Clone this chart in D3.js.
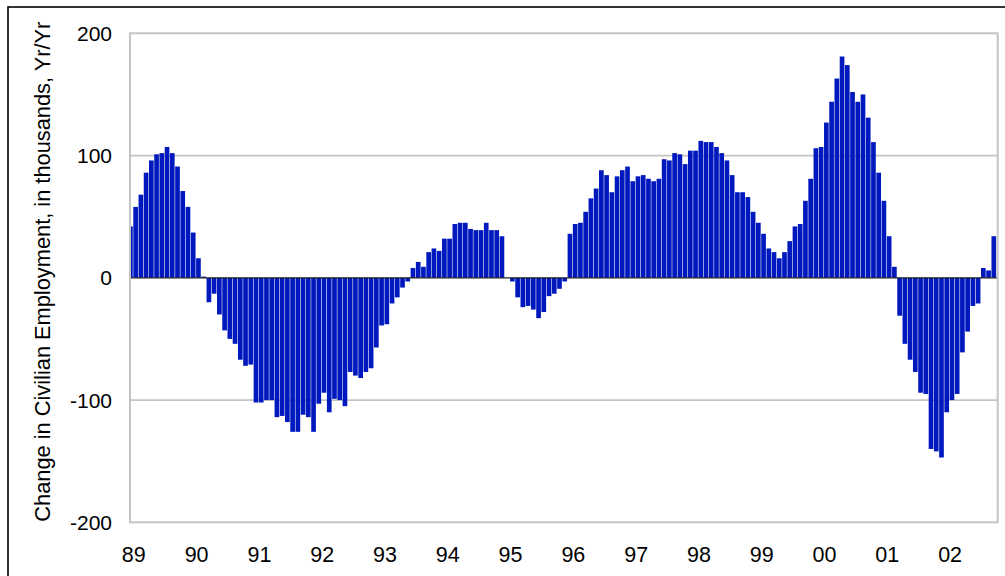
<!DOCTYPE html>
<html>
<head>
<meta charset="utf-8">
<script src="https://cdn.jsdelivr.net/npm/d3@7"></script>
<style>
  html, body { margin: 0; padding: 0; background: #fff; }
  svg { display: block; font-family: Arial, "Liberation Sans", sans-serif; }
</style>
</head>
<body>
<svg width="1005" height="576"></svg>
<script>
// monthly yr/yr change, Dec 88 .. Sep 02 (first bar sits under the axis edge)
const startMonth = new Date(1988, 11, 1)
const values = [
   42,  58,  68,  86,  96, 101, 102, 107, 102,  91,  71,  58,
   37,  16,   1, -20, -13, -30, -43, -50, -54, -67, -72, -71,
 -102,-102,-100,-100,-114,-113,-118,-126,-126,-112,-114,-126,
 -103, -94,-110, -99,-100,-105, -77, -80, -82, -77, -74, -57,
  -39, -38, -21, -16,  -8,  -3,   8,  13,   9,  21,  24,  22,
   32,  32,  44,  45,  45,  40,  39,  39,  45,  39,  39,  34,
    0,  -3, -16, -24, -23, -26, -33, -28, -15, -13,  -9,  -3,
   36,  44,  45,  54,  65,  73,  88,  84,  70,  83,  88,  91,
   79,  83,  84,  81,  79,  81,  97,  96, 102, 101,  93, 104,
  104, 112, 111, 111, 107, 102,  96,  84,  70,  70,  66,  54,
   45,  36,  24,  21,  16,  21,  30,  42,  44,  63,  81, 106,
  107, 127, 144, 163, 181, 174, 152, 144, 150, 131, 111,  86,
   63,  34,   9, -31, -54, -67, -77, -94, -95,-140,-142,-147,
 -110,-100, -95, -61, -44, -23, -21,   8,   6,  34
]
const months = d3.range(values.length).map(i => d3.timeMonth.offset(startMonth, i))
const yearLabels = ["89","90","91","92","93","94","95","96","97","98","99","00","01","02"]
const yTicks = [-200, -100, 0, 100, 200]
const yTitle = "Change in Civilian Employment, in thousands, Yr/Yr"

const svg = d3.select("svg")
const plot = {left:130, top:33.3, right:997.7, bottom:522.3}

const x = d3.scaleBand()
    .domain(d3.range(values.length))
    .range([128.07, 996.7])
    .padding(0)
const y = d3.scaleLinear().domain([-200, 200]).range([plot.bottom, plot.top])

// outer frame
svg.append("rect")
    .attr("x", 8).attr("y", 7)
    .attr("width", 1100).attr("height", 700)
    .attr("fill", "none").attr("stroke", "#000").attr("stroke-width", 1.6)

svg.append("clipPath").attr("id", "plotclip")
  .append("rect")
    .attr("x", plot.left).attr("y", plot.top)
    .attr("width", plot.right - plot.left).attr("height", plot.bottom - plot.top)

// gridlines
svg.append("g").selectAll("line")
    .data([100, -100])
    .join("line")
    .attr("x1", plot.left).attr("x2", plot.right)
    .attr("y1", d => y(d)).attr("y2", d => y(d))
    .attr("stroke", "#c4c4c4").attr("stroke-width", 1.8)

// bars
svg.append("g").attr("clip-path", "url(#plotclip)")
  .selectAll("rect")
    .data(values)
    .join("rect")
    .attr("x", (d, i) => x(i))
    .attr("width", x.bandwidth() - 0.55)
    .attr("y", d => y(Math.max(0, d)))
    .attr("height", d => Math.abs(y(d) - y(0)))
    .attr("fill", "#0019be")

// zero line
svg.append("line")
    .attr("x1", plot.left).attr("x2", plot.right)
    .attr("y1", y(0)).attr("y2", y(0))
    .attr("stroke", "#222").attr("stroke-width", 1.2)

// plot border
svg.append("rect")
    .attr("x", plot.left).attr("y", plot.top)
    .attr("width", plot.right - plot.left).attr("height", plot.bottom - plot.top)
    .attr("fill", "none").attr("stroke", "#c4c4c4").attr("stroke-width", 2)

// y tick labels
svg.append("g").selectAll("text")
    .data(yTicks)
    .join("text")
    .attr("x", 112)
    .attr("y", d => y(d) + 7.5)
    .attr("text-anchor", "end")
    .style("font-size", "21px")
    .attr("fill", "#000")
    .text(d => d)

// x tick labels, one per January
const janIdx = months.map((m, i) => m.getMonth() === 0 ? i : -1).filter(i => i >= 0)
svg.append("g").selectAll("text")
    .data(janIdx)
    .join("text")
    .attr("x", i => x(i) + 0.5)
    .attr("y", 562)
    .attr("text-anchor", "middle")
    .style("font-size", "21.5px")
    .attr("fill", "#000")
    .text((i, k) => yearLabels[k])

// y title
svg.append("text")
    .attr("transform", "translate(49.5,271.7) rotate(-90)")
    .attr("text-anchor", "middle")
    .style("font-size", "21.8px")
    .attr("fill", "#000")
    .text(yTitle)
</script>
</body>
</html>
